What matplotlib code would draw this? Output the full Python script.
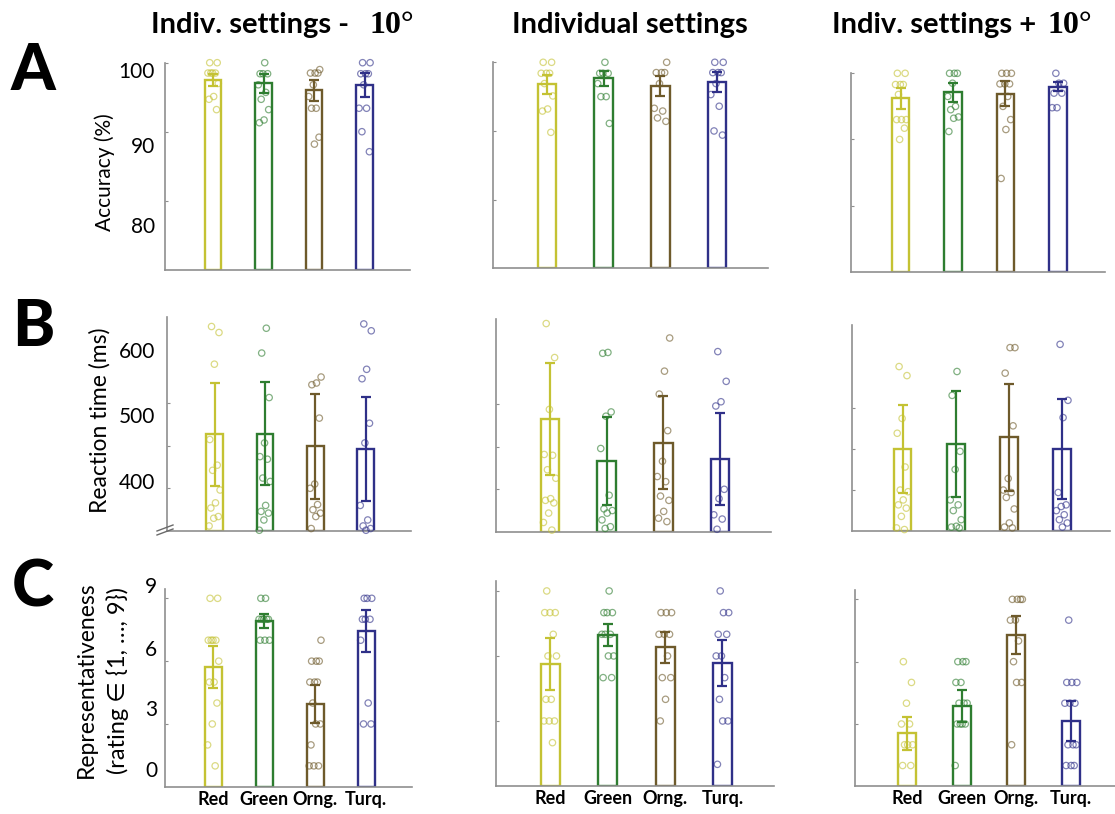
import matplotlib
matplotlib.use("Agg")
import matplotlib.pyplot as plt

W, H = 1115, 814

categories = ["Red", "Green", "Orng.", "Turq."]
colors = ["#c4c233", "#2e7d30", "#6e5a2b", "#2f3088"]

# ---- Accuracy (%) ----
acc_mean_minus = [97.5, 97.0, 96.0, 96.8]
acc_err_minus = [0.9, 1.4, 1.5, 1.7]
acc_pts_minus = [
    [100, 100, 98.5, 98.5, 98.5, 98.5, 97.0, 95.1, 94.7, 93.2],
    [100, 98.4, 98.4, 98.4, 96.8, 95.7, 94.7, 93.2, 91.7, 91.3],
    [99.0, 98.5, 98.5, 98.5, 96.8, 95.1, 93.4, 93.4, 89.2, 88.2],
    [100, 100, 98.4, 98.4, 98.4, 96.8, 93.4, 93.4, 90.0, 87.1],
]
acc_mean_indiv = [96.8, 97.7, 96.6, 97.1]
acc_err_indiv = [1.35, 1.1, 1.45, 1.45]
acc_pts_indiv = [
    [100, 100, 98.4, 98.4, 98.4, 96.9, 95.1, 93.2, 92.9, 89.8],
    [100, 98.4, 98.4, 98.4, 96.9, 95.0, 95.0, 91.1],
    [100, 98.5, 98.5, 98.5, 96.9, 93.3, 92.9, 91.9, 91.4],
    [100, 100, 98.5, 98.5, 98.5, 96.9, 95.3, 93.6, 90.0, 89.4],
]
acc_mean_plus = [96.2, 97.1, 96.9, 98.0]
acc_err_plus = [1.6, 1.5, 1.9, 0.75]
acc_pts_plus = [
    [100, 100, 98.3, 98.3, 98.3, 96.8, 93.0, 93.0, 93.0, 91.7, 90.0],
    [100, 100, 100, 98.5, 96.5, 95.0, 94.5, 93.4, 93.2, 91.2],
    [100, 100, 100, 98.4, 98.4, 98.4, 96.5, 95.0, 93.0, 91.5, 84.1],
    [100, 98.5, 98.5, 97.0, 97.0, 94.8, 94.8],
]

# ---- Reaction time (ms) ----
rt_mean_minus = [463, 464, 449, 446]
rt_err_minus = [60, 60, 61, 61]
rt_pts_minus = [
    [589, 582, 545, 457, 427, 421, 398, 383, 377, 367, 365, 356],
    [587, 558, 506, 453, 437, 434, 412, 408, 380, 373, 371, 363, 351],
    [530, 523, 521, 482, 405, 400, 381, 375, 371, 367, 353],
    [592, 584, 539, 528, 476, 453, 380, 363, 356, 353, 351],
]
rt_mean_indiv = [483, 433, 455, 436]
rt_err_indiv = [66, 52, 55, 54]
rt_pts_indiv = [
    [595, 555, 494, 441, 440, 423, 413, 389, 387, 384, 372, 361, 352],
    [561, 560, 491, 486, 448, 393, 377, 375, 372, 364, 356, 354],
    [578, 539, 512, 469, 433, 415, 409, 392, 387, 374, 366, 362],
    [562, 527, 503, 498, 400, 389, 370, 365, 353],
]
rt_mean_plus = [450, 456, 464, 450]
rt_err_plus = [53, 64, 65, 61]
rt_pts_plus = [
    [550, 539, 487, 469, 428, 400, 398, 388, 382, 378, 368, 354, 352],
    [544, 515, 447, 425, 388, 382, 375, 364, 356, 355, 354],
    [573, 573, 542, 478, 414, 400, 397, 391, 377, 360, 355, 354],
    [577, 509, 488, 397, 382, 380, 375, 370, 364, 360, 355],
]

# ---- Representativeness rating ----
rep_mean_minus = [5.74, 7.92, 3.95, 7.44]
rep_err_minus = [1.0, 0.34, 0.89, 1.0]
rep_pts_minus = [
    [9, 9, 7, 7, 7, 7, 6, 5, 5, 4, 3, 2, 1],
    [9, 9, 8, 8, 8, 8, 8, 7, 7, 7],
    [7, 6, 6, 6, 5, 5, 5, 4, 3, 3, 2, 1, 1, 1],
    [9, 9, 9, 8, 8, 8, 7, 4, 3, 3],
]
rep_mean_indiv = [5.63, 6.97, 6.40, 5.69]
rep_err_indiv = [1.18, 0.5, 0.72, 1.06]
rep_pts_indiv = [
    [9, 8, 8, 8, 7, 6, 6, 4, 4, 3, 3, 3, 2],
    [9, 8, 8, 8, 7, 7, 7, 6, 6, 5, 5],
    [8, 8, 8, 7, 7, 7, 6, 5, 5, 4, 3],
    [9, 8, 8, 7, 7, 6, 6, 5, 4, 3, 3, 1],
]
rep_mean_plus = [2.55, 3.88, 7.28, 3.16]
rep_err_plus = [0.8, 0.78, 0.93, 0.96]
rep_pts_plus = [
    [6, 5, 4, 3, 3, 2, 2, 2, 1, 1],
    [6, 6, 6, 5, 5, 4, 4, 4, 3, 3, 3, 3, 1],
    [9, 9, 9, 9, 8, 8, 7, 6, 5, 5, 2],
    [8, 5, 5, 5, 4, 4, 4, 2, 2, 2, 1, 1, 1],
]

acc_ticks = [80, 90, 100]
rt_ticks = [400, 450, 500]
rep_ticks = [3, 6, 9]
acc_tick_labels = ["100", "90", "80"]
rt_tick_labels = ["600", "500", "400"]
rep_tick_labels = ["9", "6", "3", "0"]

TEXT_FONT = ["Lato", "DejaVu Sans"]
SERIF_FONT = ["Liberation Serif", "DejaVu Serif"]
AXIS_GREY = "#8f8f8f"
XLIM = (0.05, 4.9)
BAR_W = 0.33

fig = plt.figure(figsize=(W / 100, H / 100), dpi=100)
fig.patch.set_facecolor("white")


def box(left, top, width, bottom):
    """Axes rectangle given in pixel coordinates (origin top-left)."""
    return [left / W, 1 - bottom / H, width / W, (bottom - top) / H]


def fx(x):
    return x / W


def fy(y):
    return 1 - y / H


def jitter(n, phase):
    return [((k * 0.618034 + phase) % 1.0 - 0.5) * 0.24 for k in range(n)]


def panel(rect_px, means, errs, pts, ylim, yticks, xlabels=False):
    ax = fig.add_axes(box(*rect_px))
    for i, (m, e, p, c) in enumerate(zip(means, errs, pts, colors)):
        x = i + 1
        ax.bar(x, m - ylim[0], bottom=ylim[0], width=BAR_W, facecolor="white",
               edgecolor=c, linewidth=1.7, zorder=2)
        offs = jitter(len(p), 0.23 + 0.37 * i)
        ax.scatter([x + o for o in offs], p, s=21, facecolors="none",
                   edgecolors=c, linewidths=0.9, alpha=0.6, zorder=3,
                   clip_on=False)
        ax.errorbar(x, m, yerr=e, fmt="none", ecolor=c, elinewidth=1.6,
                    capsize=3.5, capthick=1.6, zorder=4)
    ax.set_xlim(*XLIM)
    ax.set_ylim(*ylim)
    ax.set_yticks(yticks)
    ax.set_yticklabels([])
    ax.tick_params(axis="y", direction="in", length=2.5, width=0.8, color=AXIS_GREY)
    ax.set_xticks([1, 2, 3, 4])
    if xlabels:
        ax.set_xticklabels(categories, fontweight="bold", fontsize=13,
                           family=TEXT_FONT)
        ax.tick_params(axis="x", length=0, pad=3)
    else:
        ax.set_xticklabels([])
        ax.tick_params(axis="x", length=0)
    for side in ("top", "right"):
        ax.spines[side].set_visible(False)
    for side in ("left", "bottom"):
        ax.spines[side].set_color(AXIS_GREY)
        ax.spines[side].set_linewidth(1.2)
    ax.set_facecolor("none")
    return ax


ACC_LIM = (70, 100)
RT_LIM = (350, 600)
REP_LIM = (0, 9.45)

# Row A
panel((165, 62.7, 245, 269.7), acc_mean_minus, acc_err_minus, acc_pts_minus, ACC_LIM, acc_ticks)
panel((493, 62.3, 275, 268.3), acc_mean_indiv, acc_err_indiv, acc_pts_indiv, ACC_LIM, acc_ticks)
panel((851, 73.3, 254, 271.7), acc_mean_plus, acc_err_plus, acc_pts_plus, ACC_LIM, acc_ticks)

# Row B
panel((167, 317.1, 244, 531.1), rt_mean_minus, rt_err_minus, rt_pts_minus, RT_LIM, rt_ticks)
panel((496, 319.3, 275, 531.8), rt_mean_indiv, rt_err_indiv, rt_pts_indiv, RT_LIM, rt_ticks)
panel((852, 325.4, 258, 531.2), rt_mean_plus, rt_err_plus, rt_pts_plus, RT_LIM, rt_ticks)

# Row C
panel((165, 588.9, 247, 786.8), rep_mean_minus, rep_err_minus, rep_pts_minus, REP_LIM, rep_ticks, True)
panel((496, 581.2, 278, 786.0), rep_mean_indiv, rep_err_indiv, rep_pts_indiv, REP_LIM, rep_ticks, True)
panel((855, 590.0, 265, 786.3), rep_mean_plus, rep_err_plus, rep_pts_plus, REP_LIM, rep_ticks, True)

# axis break marks on the reaction-time axis
for dy in (0, 4):
    fig.add_artist(plt.Line2D([fx(157), fx(173)], [fy(531 + dy), fy(525 + dy)],
                              color="#6a6a6a", linewidth=1.0))

# y tick labels of the first column
for txt, y in zip(acc_tick_labels, (71.7, 146.7, 226.7)):
    fig.text(fx(155), fy(y), txt, ha="right", va="center", fontsize=15, family=TEXT_FONT)
for txt, y in zip(rt_tick_labels, (351.7, 417.3, 482.7)):
    fig.text(fx(155), fy(y), txt, ha="right", va="center", fontsize=15, family=TEXT_FONT)
for txt, y in zip(rep_tick_labels, (586.7, 650.0, 710.0, 770.7)):
    fig.text(fx(157), fy(y), txt, ha="right", va="center", fontsize=15, family=TEXT_FONT)

# y axis titles
fig.text(fx(105), fy(172), "Accuracy (%)", rotation=90, ha="center", va="center",
         fontsize=15, family=TEXT_FONT)
fig.text(fx(100), fy(420), "Reaction time (ms)", rotation=90, ha="center", va="center",
         fontsize=16.5, family=TEXT_FONT)
fig.text(fx(86), fy(680), "Representativeness", rotation=90, ha="center", va="center",
         fontsize=16.5, family=TEXT_FONT)
fig.text(fx(118), fy(681), "(rating \u2208 {1, \u2026, 9})", rotation=90, ha="center",
         va="center", fontsize=17, family=TEXT_FONT)

# panel letters
for letter, y in (("A", 72), ("B", 328), ("C", 588)):
    fig.text(fx(33), fy(y), letter, ha="center", va="center", fontsize=46,
             fontweight="black", family=TEXT_FONT)

# column titles, all sharing one baseline
TITLE_BASE = 33
fig.text(fx(349), fy(TITLE_BASE), "Indiv. settings -", ha="right", va="baseline",
         fontsize=21, fontweight="bold", family=TEXT_FONT)
fig.text(fx(370), fy(TITLE_BASE), "10\u00b0", ha="left", va="baseline",
         fontsize=23, fontweight="bold", family=SERIF_FONT)
fig.text(fx(630), fy(TITLE_BASE), "Individual settings", ha="center", va="baseline",
         fontsize=21, fontweight="bold", family=TEXT_FONT)
fig.text(fx(1036), fy(TITLE_BASE), "Indiv. settings +", ha="right", va="baseline",
         fontsize=21, fontweight="bold", family=TEXT_FONT)
fig.text(fx(1048), fy(TITLE_BASE), "10\u00b0", ha="left", va="baseline",
         fontsize=23, fontweight="bold", family=SERIF_FONT)

fig.savefig("out.png", dpi=100, facecolor="white")
